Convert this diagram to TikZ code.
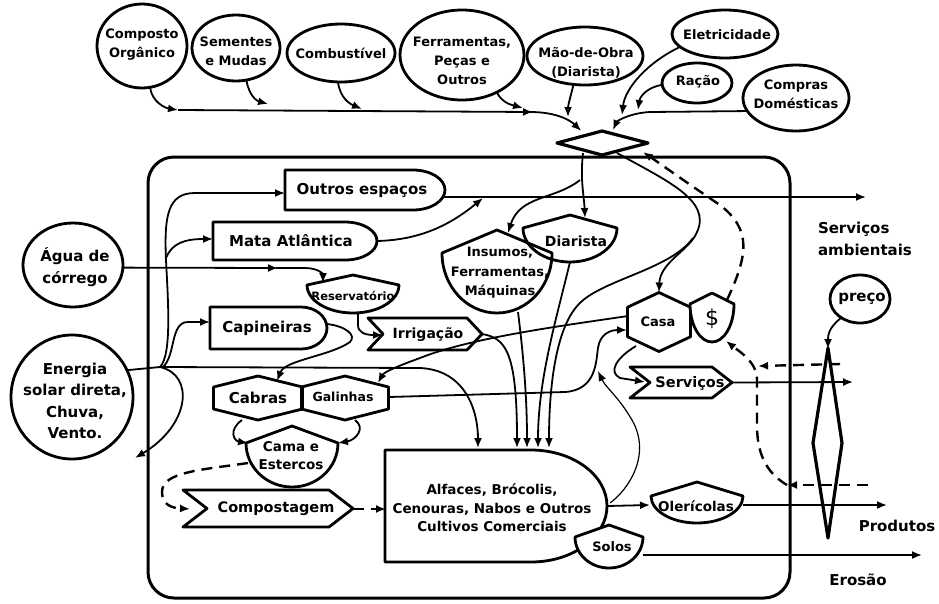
\documentclass[tikz,border=0pt]{standalone}
\usepackage{fontspec}
\setmainfont{DejaVu Sans}
\usetikzlibrary{arrows.meta,shapes.geometric,calc}

\tikzset{
  shp/.style={line width=2.8pt, line join=round},
  bb/.style={inner sep=0pt, outer sep=0pt},
  txt/.style={inner sep=0pt, outer sep=0pt, align=center},
  src/.style={draw, ellipse, line width=2.8pt, inner sep=0pt, outer sep=0pt},
  tip/.style={-{Latex[length=10pt,width=8pt]}},
  fl/.style={line width=1.8pt, tip},
  ln/.style={line width=1.8pt},
  thinl/.style={line width=1.2pt},
  dsh/.style={line width=2.4pt, dash pattern=on 11pt off 7pt},
}

\newcommand\fTop{\fontsize{13}{19}\selectfont\bfseries}
\newcommand\fBig{\fontsize{15}{21.5}\selectfont\bfseries}

% hexagon: name, cx, cy, w, h
\newcommand\hexshape[5]{%
  \draw[shp] (#2,#3-#5/2) -- (#2+#4/2,#3-#5/4) -- (#2+#4/2,#3+#5/4) -- (#2,#3+#5/2) -- (#2-#4/2,#3+#5/4) -- (#2-#4/2,#3-#5/4) -- cycle;
  \node[bb, minimum width=#4, minimum height=#5] (#1) at (#2,#3) {};}
% tank: name, cx, ytop, yshoulder, ybottom, halfwidth, fill
\newcommand\tankshape[7]{%
  \draw[shp, fill=#7] (#2-#6,#4) -- (#2,#3) -- (#2+#6,#4) .. controls (#2+#6,{#4+0.5523*(#5-#4)}) and (#2+0.5523*#6,#5) .. (#2,#5) .. controls (#2-0.5523*#6,#5) and (#2-#6,{#4+0.5523*(#5-#4)}) .. cycle;
  \node[bb, minimum width=2*#6, minimum height=#5-#3] (#1) at (#2,{(#3+#5)/2}) {};}
% bullet: name, L, top, R, bottom, rx
\newcommand\bulletshape[6]{%
  \draw[shp] (#2,#3) -- (#4-#6,#3) .. controls (#4-#6+0.5523*#6,#3) and (#4,{(#3+#5)/2-0.5523*(#5-#3)/2}) .. (#4,{(#3+#5)/2}) .. controls (#4,{(#3+#5)/2+0.5523*(#5-#3)/2}) and (#4-#6+0.5523*#6,#5) .. (#4-#6,#5) -- (#2,#5) -- cycle;
  \node[bb, minimum width=#4-#2, minimum height=#5-#3] (#1) at ({(#2+#4)/2},{(#3+#5)/2}) {};}
% chevron: name, L, top, R, bottom, d
\newcommand\chevshape[6]{%
  \draw[shp] (#2,#3) -- (#4-#6,#3) -- (#4,{(#3+#5)/2}) -- (#4-#6,#5) -- (#2,#5) -- (#2+#6,{(#3+#5)/2}) -- cycle;
  \node[bb, minimum width=#4-#2, minimum height=#5-#3] (#1) at ({(#2+#4)/2},{(#3+#5)/2}) {};}

\begin{document}
\begin{tikzpicture}[x=1pt,y=-1pt]
\useasboundingbox (0,0) rectangle (939,603);

% system frame
\node[draw, line width=3pt, rounded corners=26pt, minimum width=642, minimum height=441, inner sep=0pt] (system) at (469,377.5) {};

% ---- sources ----
\node[src, minimum width=90, minimum height=84] (composto) at (142,46) {};
\node[src, minimum width=88, minimum height=66] (sementes) at (236,48) {};
\node[src, minimum width=108, minimum height=58] (combust) at (341,53) {};
\node[src, minimum width=124, minimum height=90] (ferram) at (462,55) {};
\node[src, minimum width=116, minimum height=58] (maodeobra) at (585,56) {};
\node[src, minimum width=106, minimum height=48] (eletric) at (725,34) {};
\node[src, minimum width=70, minimum height=40] (racao) at (697,83) {};
\node[src, minimum width=106, minimum height=66] (compras) at (796,98) {};
\node[src, minimum width=100, minimum height=84] (agua) at (73,265) {};
\node[src, minimum width=122, minimum height=124] (energia) at (72,397) {};
\node[src, minimum width=60, minimum height=48] (preco) at (860,299) {};

% ---- transaction diamonds ----
\draw[shp, line width=3.2pt] (557,143) -- (602,131) -- (648,143) -- (602,155) -- cycle;
\node[bb, minimum width=91, minimum height=24] (trans) at (602,143) {};
\draw[shp, line width=3.2pt] (828,348) -- (842,443) -- (828,538) -- (813,443) -- cycle;
\node[bb, minimum width=29, minimum height=190] (pricedia) at (828,443) {};

% ---- internal components ----
\bulletshape{outros}{285}{170}{445}{210}{32}
\bulletshape{mata}{213}{222}{377}{260}{32}
\bulletshape{capin}{210}{307}{327}{349}{26}
\bulletshape{alfaces}{385}{450}{607}{562}{76}
\tankshape{reserv}{353}{275}{285}{313}{46}{none}
\tankshape{insumos}{497}{230}{253}{313}{55}{none}
\tankshape{diarista}{570}{215}{228}{262}{47}{none}
\tankshape{cama}{292}{426}{443}{487}{46}{none}
\tankshape{oleric}{697}{482}{496}{523}{46}{none}
\tankshape{solos}{609}{525}{537}{568}{34}{white}
\hexshape{cabras}{258}{398}{89}{44}
\hexshape{galinhas}{345}{398}{87}{44}
\hexshape{casa}{659}{322}{63}{59}
\tankshape{dollar}{712}{293}{304}{342}{22}{white}
\chevshape{irrig}{368}{318}{482}{350}{15}
\chevshape{compost}{183}{490}{353}{527}{24}
\chevshape{servicos}{630}{367}{732}{398}{20}

% ---- purchased inputs ----
\draw[fl] (composto.281) .. controls (152,102) and (165,108) .. (178,110);
\draw[fl] (sementes.288) .. controls (249,96) and (257,101) .. (268,104);
\draw[fl] (combust.264) .. controls (340,98) and (350,104) .. (362,109);
\draw[fl] (178,110) -- (533,112);
\draw[fl] (530,112) .. controls (556,112) and (570,120) .. (trans.150);
\draw[fl] (ferram.313) .. controls (502,103) and (512,105) .. (523,108);
\draw[fl] (maodeobra.248) .. controls (571,95) and (568,105) .. (568,117);
\draw[fl] (eletric.196) .. controls (648,62) and (625,88) .. (622,115);
\draw[fl] (racao.183) .. controls (648,87) and (640,96) .. (638,110);
\draw[fl] (compras.195) -- (650,112) .. controls (630,113) and (617,121) .. (613,130);

% ---- from the diamond ----
\draw[fl] (583,153) .. controls (580,180) and (584,195) .. (585,218);
\draw[fl] (580,180) .. controls (555,200) and (520,195) .. (508,233);
\draw[fl] (617,153) .. controls (665,180) and (712,200) .. (697,232) .. controls (690,250) and (660,262) .. (casa.north);
\draw[fl] (693,238) .. controls (670,270) and (600,280) .. (578,305) .. controls (555,330) and (549,390) .. (549,448);

% ---- into the crops ----
\draw[fl] (518,312) .. controls (524,360) and (527,400) .. (527,448);
\draw[fl] (570,262) .. controls (556,320) and (538,380) .. (538,448);
\draw[fl] (irrig.east) .. controls (505,338) and (517,350) .. (517,448);
\draw[fl] (energia.26) -- (160,367) -- (420,368) .. controls (465,370) and (478,410) .. (478,448);

% ---- energy branches ----
\draw[fl] (160,367) .. controls (172,355) and (168,300) .. (166,260) .. controls (164,215) and (168,193) .. (195,193) -- (285,193);
\draw[fl] (166,258) .. controls (172,243) and (185,239) .. (213,239);
\draw[fl] (163,367) .. controls (176,355) and (170,322) .. (188,322) -- (210,322);
\draw[fl] (160,367) .. controls (195,375) and (190,425) .. (135,458);

% ---- water ----
\draw[fl] (agua.357) -- (278,268);
\draw[fl] (276,268) -- (305,268) .. controls (318,268) and (323,274) .. (323,283);
\draw[fl] (358,313) -- (358,325) .. controls (358,333) and (366,335) .. (383,335);

% ---- animals ----
\draw[fl] (327,324) .. controls (345,326) and (357,335) .. (350,342) .. controls (330,356) and (285,360) .. (277,381);
\draw[fl] (628,316) .. controls (560,326) and (470,338) .. (420,358) .. controls (398,366) and (384,372) .. (378,383);
\draw[fl] (389,397) -- (565,392) .. controls (597,390) and (596,360) .. (598,348) .. controls (600,334) and (610,330) .. (627,330);
\draw[thinl, tip] (610,503) .. controls (628,490) and (652,455) .. (632,420) .. controls (618,396) and (606,388) .. (598,371);
\draw[fl] (242,420) .. controls (228,430) and (234,441) .. (248,443);
\draw[fl] (355,420) .. controls (366,428) and (356,440) .. (338,443);
\draw[fl] (636,346) .. controls (616,358) and (608,372) .. (620,378) -- (645,382);

% ---- outputs ----
\draw[fl] (442,197) -- (866,197);
\draw[fl] (377,241) .. controls (420,240) and (450,225) .. (483,198);
\draw[fl] (servicos.east) -- (853,382);
\draw[fl] (alfaces.east) -- (650,505);
\draw[fl] (743,505) -- (887,505);
\draw[fl] (643,555) -- (922,555);
\draw[fl] (preco.225) .. controls (828,328) and (828,336) .. (828,349);

% ---- money and compost (dashed) ----
\draw[dsh, tip] (727,300) .. controls (748,255) and (752,230) .. (720,205) .. controls (690,185) and (662,165) .. (643,152);
\draw[dsh, tip] (840,364) -- (758,366);
\draw[dsh, tip] (868,485) -- (787,485);
\draw[dsh, tip] (787,485) .. controls (765,472) and (757,452) .. (757,425) -- (757,380) .. controls (757,362) and (740,352) .. (726,341);
\draw[dsh, tip] (248,463) .. controls (200,470) and (162,472) .. (162,492) .. controls (162,505) and (172,508) .. (190,509);
\draw[dsh, tip] (353,509) -- (386,509);

% ---- texts ----
\node[txt, font=\fTop] (composto-t) at (142,45) {Composto\\Orgânico};
\node[txt, font=\fTop] (sementes-t) at (236,51) {Sementes\\e Mudas};
\node[txt, font=\fTop] (combust-t) at (341,53) {Combustível};
\node[txt, font=\fTop] (ferram-t) at (462,61) {Ferramentas,\\Peças e\\Outros};
\node[txt, font=\fTop] (maodeobra-t) at (586,63) {Mão-de-Obra\\(Diarista)};
\node[txt, font=\fTop] (eletric-t) at (727,35) {Eletricidade};
\node[txt, font=\fTop] (racao-t) at (698,82) {Ração};
\node[txt, font=\fTop] (compras-t) at (796,94) {Compras\\Domésticas};
\node[txt, font=\fBig] (agua-t) at (75,267) {Água de\\córrego};
\node[txt, font=\fBig] (energia-t) at (75,401) {Energia\\solar direta,\\Chuva,\\Vento.};
\node[txt, font=\fBig] (preco-t) at (862,299) {preço};
\node[txt, font=\fBig, anchor=west, align=left] (servamb-t) at (818,239) {Serviços\\ambientais};
\node[txt, font=\fBig] (produtos-t) at (897,526) {Produtos};
\node[txt, font=\fBig] (erosao-t) at (858,580) {Erosão};

\node[txt, font=\fBig] (outros-t) at (362,190) {Outros espaços};
\node[txt, font=\fBig] (mata-t) at (291,241) {Mata Atlântica};
\node[txt, font=\fBig] (capin-t) at (267,328) {Capineiras};
\node[txt, font=\fontsize{13.5}{18.5}\selectfont\bfseries] (alfaces-t) at (492,508) {Alfaces, Brócolis,\\Cenouras, Nabos e Outros\\Cultivos Comerciais};
\node[txt, font=\fontsize{11.5}{14}\selectfont\bfseries] (reserv-t) at (353,296) {Reservatório};
\node[txt, font=\fontsize{13}{19.5}\selectfont\bfseries] (insumos-t) at (500,273) {Insumos,\\Ferramentas,\\Máquinas};
\node[txt, font=\fontsize{14}{18}\selectfont\bfseries] (diarista-t) at (576,241) {Diarista};
\node[txt, font=\fontsize{13.5}{18}\selectfont\bfseries] (cama-t) at (291,456) {Cama e\\Estercos};
\node[txt, font=\fontsize{13.5}{18}\selectfont\bfseries] (oleric-t) at (696,506) {Olerícolas};
\node[txt, font=\fontsize{13}{18}\selectfont\bfseries] (solos-t) at (612,547) {Solos};
\node[txt, font=\fBig] (cabras-t) at (258,398) {Cabras};
\node[txt, font=\fontsize{12.5}{16}\selectfont\bfseries] (galinhas-t) at (343,397) {Galinhas};
\node[txt, font=\fontsize{13}{16}\selectfont\bfseries] (casa-t) at (658,322) {Casa};
\node[txt, font=\fontsize{22}{24}\selectfont] (dollar-t) at (712,319) {\$};
\node[txt, font=\fontsize{14}{18}\selectfont\bfseries] (irrig-t) at (428,335) {Irrigação};
\node[txt, font=\fontsize{14.5}{18}\selectfont\bfseries] (compost-t) at (276,509) {Compostagem};
\node[txt, font=\fontsize{14.5}{18}\selectfont\bfseries] (servicos-t) at (690,383) {Serviços};
\end{tikzpicture}
\end{document}
